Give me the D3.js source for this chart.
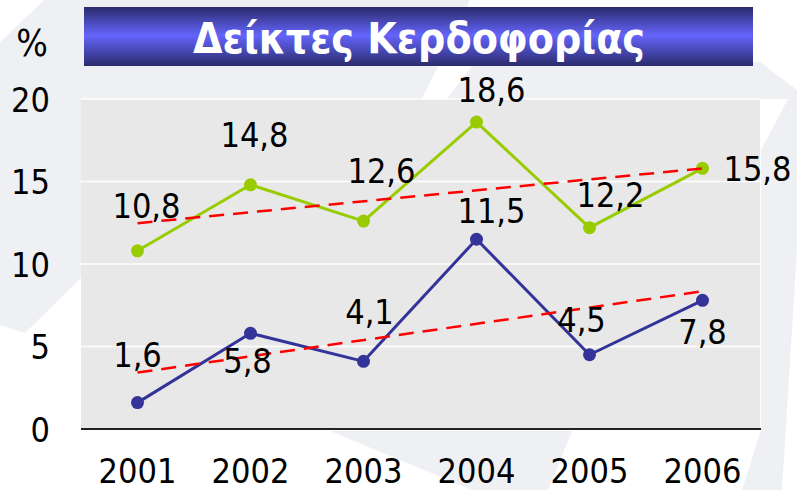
<!DOCTYPE html>
<html>
<head>
<meta charset="utf-8">
<script src="https://cdn.jsdelivr.net/npm/d3@7/dist/d3.min.js"></script>
<style>
  html, body { margin: 0; padding: 0; background: #ffffff; }
  svg { display: block; }
  .lbl { font-family: "DejaVu Sans Condensed", "DejaVu Sans", sans-serif; font-stretch: condensed; font-size: 34px; fill: #000; }
</style>
</head>
<body>
<svg id="chart" width="797" height="490"></svg>
<script>
// chart values
var years = ['2001', '2002', '2003', '2004', '2005', '2006'];
var greenValues = [10.8, 14.8, 12.6, 18.6, 12.2, 15.8];
var blueValues = [1.6, 5.8, 4.1, 11.5, 4.5, 7.8];
var yTicks = [0, 5, 10, 15, 20];
var titleText = 'Δείκτες Κερδοφορίας';
var unitText = '%';

// hand placed label offsets (centre dx, baseline dy) relative to each point
var greenLabelOffsets = [[9, -33], [4, -38], [18, -38], [15, -20], [21, -21], [55, 13]];
var blueLabelOffsets = [[0, -36], [-3, 40], [6, -37], [15, -16], [-8, -23], [0, 44]];

var svg = d3.select('#chart');
var plot = {left: 81, right: 760, top: 99, bottom: 429};

var x = d3.scaleBand().domain(years).range([plot.left, plot.right - 1]).padding(0);
var y = d3.scaleLinear().domain([0, 20]).range([plot.bottom, plot.top]);
var cx = function(d, i) { return x(years[i]) + x.bandwidth() / 2; };

var fmt = d3.formatLocale({decimal: ',', thousands: '.', grouping: [3], currency: ['', '€']}).format('.1f');

// background watermark (light swooshes)
var wm = svg.append('g').attr('fill', '#eff0f3');
[
  [[0, 42], [44, 0], [470, 0], [422, 99], [82, 99], [82, 277], [25, 333], [0, 325]],
  [[447, 99], [475, 62], [760, 62], [797, 90], [797, 99]],
  [[788, 99], [797, 92], [797, 250], [782, 490], [742, 490], [761, 430], [761, 150]],
  [[330, 431], [572, 431], [548, 490], [472, 490]]
].forEach(function(pts) {
  wm.append('path').attr('d', d3.line()(pts) + 'Z');
});

// title box with vertical gradient
var defs = svg.append('defs');
var grad = defs.append('linearGradient')
  .attr('id', 'titleGrad').attr('x1', 0).attr('y1', 0).attr('x2', 0).attr('y2', 1);
grad.append('stop').attr('offset', '0%').attr('stop-color', '#2b2b6b');
grad.append('stop').attr('offset', '48%').attr('stop-color', '#6464fc');
grad.append('stop').attr('offset', '100%').attr('stop-color', '#2b2b6b');

svg.append('rect')
  .attr('x', 84).attr('y', 7).attr('width', 669).attr('height', 59)
  .attr('fill', 'url(#titleGrad)');
svg.append('text')
  .attr('x', 419).attr('y', 53)
  .attr('text-anchor', 'middle')
  .attr('font-family', '"DejaVu Sans", sans-serif')
  .attr('font-weight', 'bold')
  .attr('font-size', 42)
  .attr('textLength', 452)
  .attr('lengthAdjust', 'spacingAndGlyphs')
  .attr('fill', '#ffffff')
  .text(titleText);

// plot area
svg.append('rect')
  .attr('x', plot.left).attr('y', plot.top)
  .attr('width', plot.right - plot.left).attr('height', plot.bottom - plot.top)
  .attr('fill', '#e8e8e8');

svg.append('g').selectAll('line')
  .data(yTicks.filter(function(t) { return t > 0; }))
  .enter().append('line')
  .attr('x1', plot.left).attr('x2', plot.right)
  .attr('y1', function(d) { return y(d); }).attr('y2', function(d) { return y(d); })
  .attr('stroke', '#ffffff').attr('stroke-width', 1.5);

// y axis labels
var yAxis = d3.axisLeft(y).tickValues(yTicks).tickSize(0).tickPadding(0).tickFormat(d3.format('d'));
var yAxisG = svg.append('g').attr('transform', 'translate(50,0)').call(yAxis);
yAxisG.select('.domain').remove();
yAxisG.selectAll('text').attr('class', 'lbl').attr('font-size', null).attr('font-family', null)
  .attr('dy', '0.36em');

svg.append('text').attr('class', 'lbl')
  .attr('x', 32).attr('y', 56).attr('text-anchor', 'middle')
  .style('font-size', '37px')
  .text(unitText);

// x axis
var xAxis = d3.axisBottom(x).tickSize(0).tickPadding(0);
var xAxisG = svg.append('g').attr('transform', 'translate(0,' + plot.bottom + ')').call(xAxis);
xAxisG.select('.domain').remove();
xAxisG.selectAll('text').attr('class', 'lbl').attr('font-size', null).attr('font-family', null)
  .attr('y', 54).attr('dy', null);

svg.append('line')
  .attr('x1', plot.left).attr('x2', plot.right + 1)
  .attr('y1', plot.bottom).attr('y2', plot.bottom)
  .attr('stroke', '#222').attr('stroke-width', 2);

// least squares trend over the series (as the spreadsheet trendline)
function trend(values) {
  var idx = values.map(function(d, i) { return i; });
  var mx = d3.mean(idx), my = d3.mean(values);
  var sxy = d3.sum(idx, function(i) { return (i - mx) * (values[i] - my); });
  var sxx = d3.sum(idx, function(i) { return (i - mx) * (i - mx); });
  var slope = sxy / sxx;
  return [0, values.length - 1].map(function(i) { return [i, my + slope * (i - mx)]; });
}

var line = d3.line()
  .x(function(d, i) { return cx(d, i); })
  .y(function(d) { return y(d); });

function drawSeries(values, color) {
  var g = svg.append('g');
  g.append('path')
    .attr('d', line(values))
    .attr('fill', 'none')
    .attr('stroke', color)
    .attr('stroke-width', 3)
    .attr('stroke-linejoin', 'round');
  g.selectAll('circle').data(values).enter().append('circle')
    .attr('cx', cx)
    .attr('cy', function(d) { return y(d); })
    .attr('r', 6.5)
    .attr('fill', color);
  return g;
}

function drawTrend(values) {
  var t = trend(values);
  svg.append('path')
    .attr('d', d3.line()
      .x(function(d) { return x(years[d[0]]) + x.bandwidth() / 2; })
      .y(function(d) { return y(d[1]); })(t))
    .attr('fill', 'none')
    .attr('stroke', '#ff0000')
    .attr('stroke-width', 2.5)
    .attr('stroke-dasharray', '15,9');
}

function drawLabels(values, offsets) {
  svg.append('g').selectAll('text').data(values).enter().append('text')
    .attr('class', 'lbl')
    .attr('text-anchor', 'middle')
    .attr('x', function(d, i) { return cx(d, i) + offsets[i][0]; })
    .attr('y', function(d, i) { return y(d) + offsets[i][1]; })
    .text(function(d) { return fmt(d); });
}

drawSeries(blueValues, '#333399');
drawSeries(greenValues, '#99cc00');
drawTrend(blueValues);
drawTrend(greenValues);
drawLabels(greenValues, greenLabelOffsets);
drawLabels(blueValues, blueLabelOffsets);
</script>
</body>
</html>
